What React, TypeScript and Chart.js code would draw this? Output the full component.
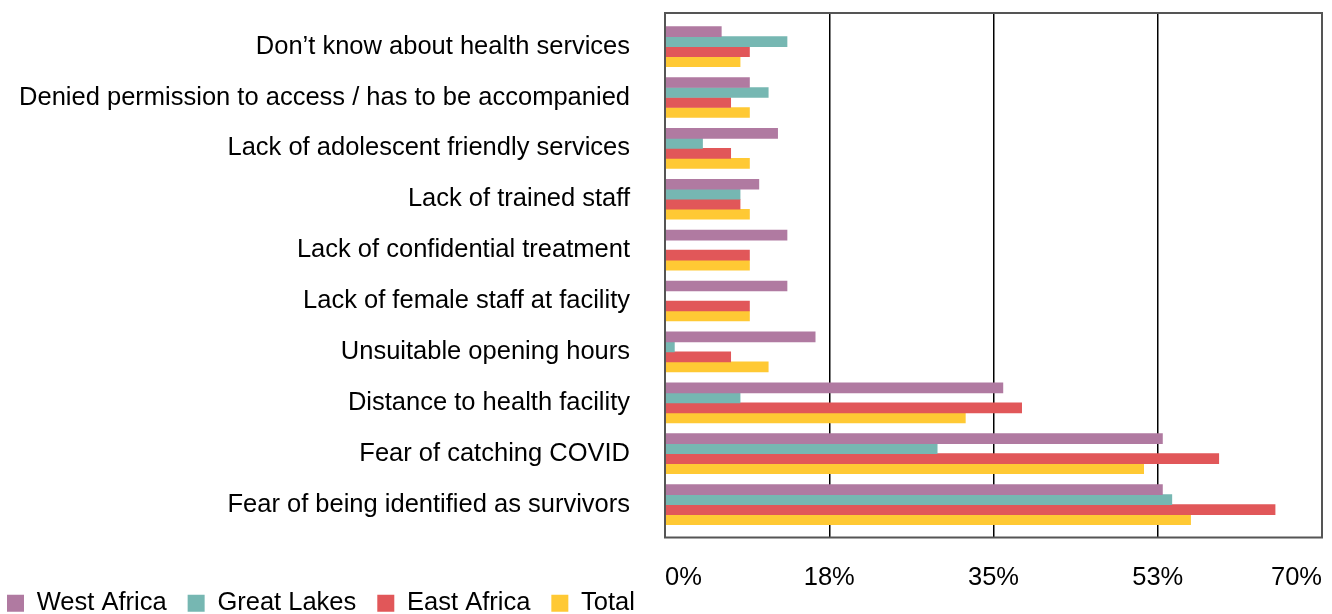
import { useEffect, useRef } from 'react';
import { Chart, registerables } from 'chart.js';

Chart.register(...registerables);

const categories = [
  'Don’t know about health services',
  'Denied permission to access / has to be accompanied',
  'Lack of adolescent friendly services',
  'Lack of trained staff',
  'Lack of confidential treatment',
  'Lack of female staff at facility',
  'Unsuitable opening hours',
  'Distance to health facility',
  'Fear of catching COVID',
  'Fear of being identified as survivors',
];
const seriesNames = ['West Africa', 'Great Lakes', 'East Africa', 'Total'];
const westAfrica = [6, 9, 12, 10, 13, 13, 16, 36, 53, 53];
const greatLakes = [13, 11, 4, 8, 0, 0, 1, 8, 29, 54];
const eastAfrica = [9, 7, 7, 8, 9, 9, 7, 38, 59, 65];
const total = [8, 9, 9, 9, 9, 9, 11, 32, 51, 56];
const seriesColors = ['#B07AA1', '#76B7B2', '#E15759', '#FFC934'];
const xTickLabels = ['0%', '18%', '35%', '53%', '70%'];

const FONT = 'Liberation Sans, Arial, Helvetica, sans-serif';
const OFFSET = 14;

export default function App() {
  const ref = useRef<HTMLCanvasElement>(null);
  useEffect(() => {
    if (!ref.current) return;
    const values = [westAfrica, greatLakes, eastAfrica, total];
    const framePlugin = {
      id: 'frame',
      afterLayout(chart: any) {
        const s = chart.scales.y;
        s._startValue = -0.66;
        s._valueRange = 10.307;
      },
      afterDatasetsDraw(chart: any) {
        const { ctx, chartArea } = chart;
        ctx.save();
        ctx.strokeStyle = '#555';
        ctx.lineWidth = 2;
        ctx.strokeRect(chartArea.left, chartArea.top, chartArea.right - chartArea.left, chartArea.bottom - chartArea.top);
        ctx.restore();
      },
    };
    const chart = new Chart(ref.current, {
      type: 'bar',
      data: {
        labels: categories,
        datasets: seriesNames.map((name, i) => ({
          label: name,
          data: values[i],
          backgroundColor: seriesColors[i],
          borderWidth: 0,
          barThickness: 10,
        })),
      },
      options: {
        indexAxis: 'y',
        responsive: false,
        animation: false,
        layout: { padding: { top: 13, right: 10, left: 0, bottom: -12 } },
        plugins: {
          tooltip: { enabled: false },
          legend: {
            position: 'bottom',
            align: 'start',
            labels: {
              font: { family: FONT, size: 25.5 },
              color: '#000',
              boxWidth: 17,
              boxHeight: 17,
              padding: 21,
            },
          },
        },
        scales: {
          x: {
            min: 0,
            max: 70,
            ticks: {
              stepSize: 17.5,
              align: 'inner',
              padding: 25,
              color: '#000',
              font: { family: FONT, size: 25.5 },
              callback: (_v: any, i: number) => xTickLabels[i],
            },
            grid: { color: '#000', lineWidth: 1.5, drawTicks: false },
            border: { display: false },
            afterFit: (s: any) => {
              s.height = 32;
              s.paddingLeft = 0;
              s.paddingRight = 0;
              s._computeLabelArea = () => undefined;
            },
          },
          y: {
            ticks: {
              padding: 35,
              color: '#000',
              font: { family: FONT, size: 25.5 },
            },
            grid: { display: false, drawTicks: false },
            border: { display: false },
            afterFit: (s: any) => {
              s.width = 665 + OFFSET;
              s.paddingTop = 0;
              s.paddingBottom = 0;
            },
          },
        },
      },
      plugins: [framePlugin],
    });
    return () => chart.destroy();
  }, []);
  return (
    <div style={{ position: 'fixed', left: -OFFSET, top: 0, width: 1332 + OFFSET, height: 614 }}>
      <canvas ref={ref} width={1332 + OFFSET} height={614} style={{ display: 'block' }} />
    </div>
  );
}
